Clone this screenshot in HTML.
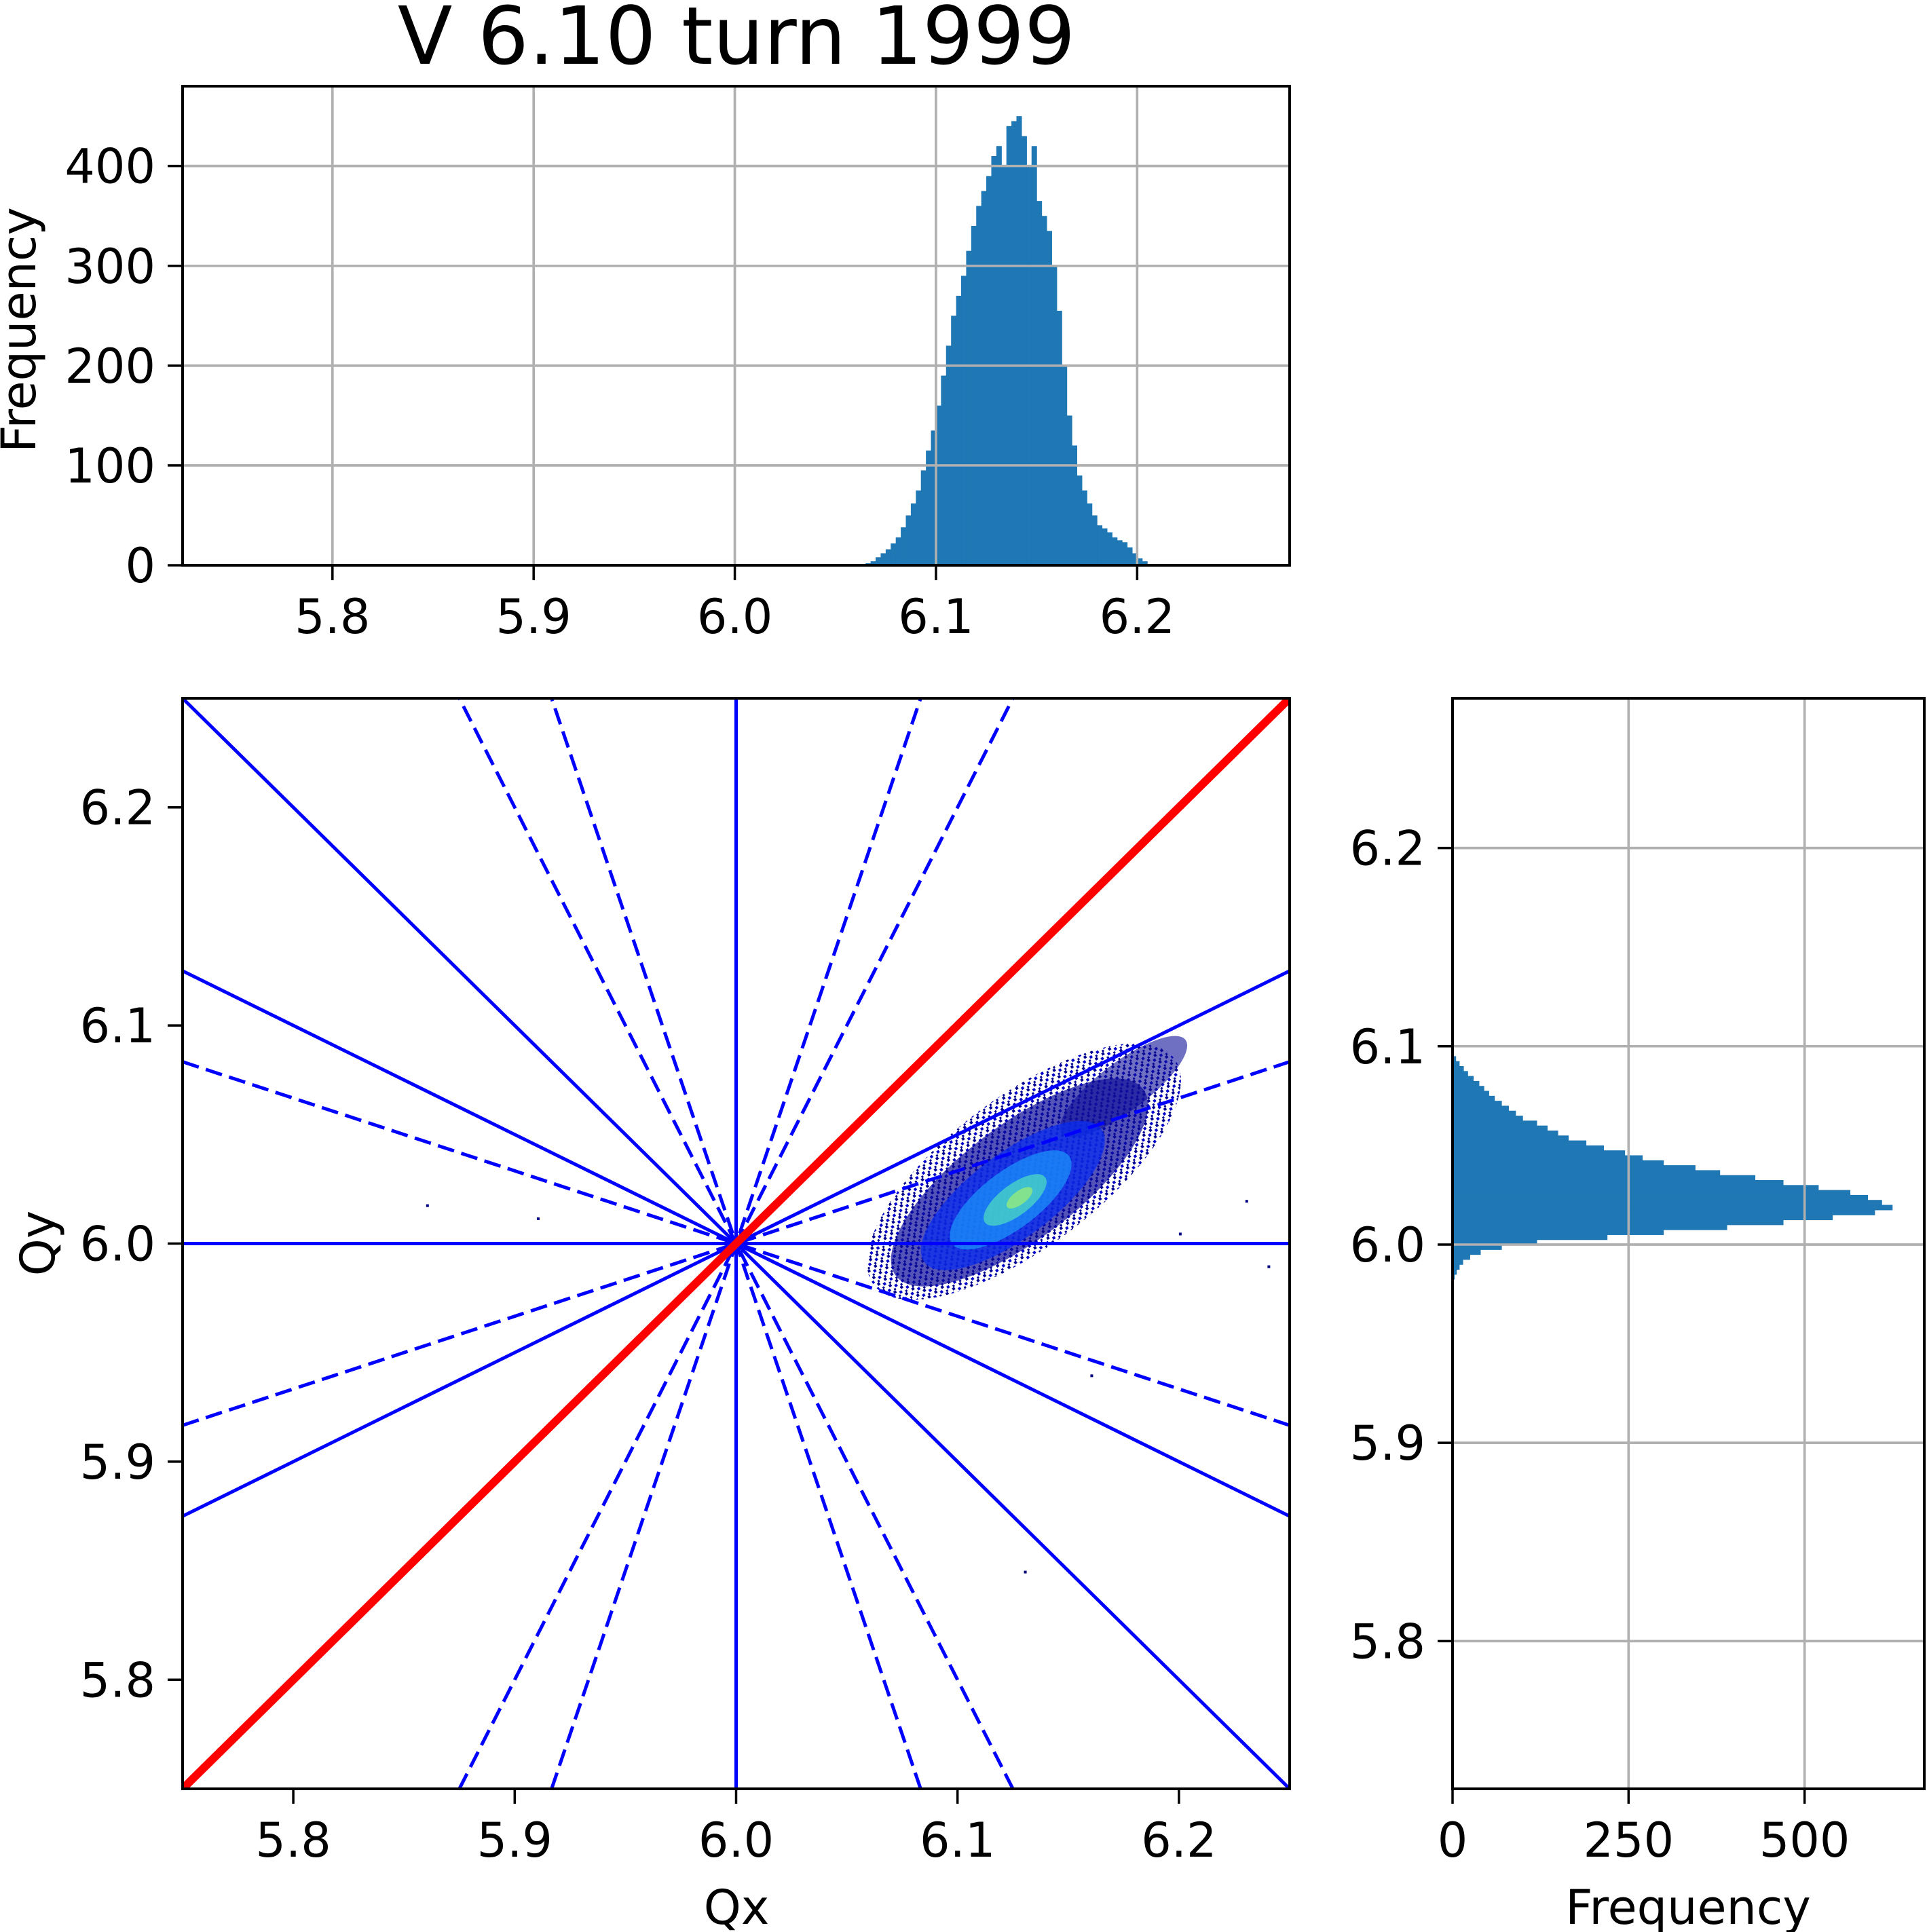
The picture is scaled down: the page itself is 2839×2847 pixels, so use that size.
<!DOCTYPE html>
<html><head><meta charset="utf-8">
<style>
html,body{margin:0;padding:0;background:#fff;}
svg{display:block;font-family:"DejaVu Sans","Liberation Sans",sans-serif;}
</style></head>
<body>
<svg id="chart" width="2839" height="2847" viewBox="0 0 2839 2847" xmlns="http://www.w3.org/2000/svg">
<defs>
<pattern id="speck" width="12" height="12" patternUnits="userSpaceOnUse">
<rect x="0" y="0" width="4" height="4" fill="#00008f"/><rect x="7" y="5" width="4" height="4" fill="#0000c8"/><rect x="3" y="9" width="3" height="3" fill="#00008f"/>
</pattern>
</defs>
<text x="1085" y="94" font-size="118" text-anchor="middle">V 6.10 turn 1999</text>
</svg>
<script>
// ---------- data ----------
const topBinStart = 6.065;
const topBinWidth = 0.0025;
const topCounts = [2,4,8,12,16,22,28,38,50,62,75,95,115,135,160,190,220,250,270,290,315,340,360,375,390,410,420,400,440,445,450,430,400,420,365,350,335,300,255,200,150,120,90,75,62,50,40,37,33,28,25,23,18,12,7,4];
const rightBinStart = 5.9825;
const rightBinWidth = 0.0025;
const rightCounts = [3,6,10,15,25,40,70,120,220,300,390,470,540,600,625,610,590,565,520,470,430,380,345,300,270,245,215,190,165,150,135,120,100,90,80,70,60,52,45,38,30,22,16,10,5];
const topXTicks = [5.8,5.9,6.0,6.1,6.2];
const topYTicks = [0,100,200,300,400];
const scatXTicks = [5.8,5.9,6.0,6.1,6.2];
const scatYTicks = [5.8,5.9,6.0,6.1,6.2];
const rightXTicks = [0,250,500];
const rightYTicks = [5.8,5.9,6.0,6.1,6.2];
const resonanceSlopes = [1,-1,0.5,-0.5];
const dashedSlopes = [1/3,-1/3,2,-2,3,-3];
// [centerQx, centerQy, semiMajor, semiMinor, color, opacity]
const blobLayers = [
 [6.13,6.033,0.085,0.034,'url(#speck)',1],
 [6.128,6.028,0.07,0.026,'#0c0c9a',0.7],
 [6.175,6.072,0.035,0.011,'#10109a',0.6],
 [6.125,6.022,0.05,0.019,'#0a2cf0',0.75],
 [6.124,6.02,0.033,0.013,'#1a90f8',0.75],
 [6.126,6.02,0.017,0.007,'#50e0c0',0.7],
 [6.128,6.021,0.007,0.003,'#a0f070',0.7]];
const strayPts = [[5.86,6.018],[5.91,6.012],[6.23,6.02],[6.2,6.005],[6.16,5.94],[6.14,6.14],[6.13,5.85],[6.24,5.99]];

const NS='http://www.w3.org/2000/svg';
const svg=document.getElementById('chart');
function mk(tag,attrs,parent){const e=document.createElementNS(NS,tag);for(const k in attrs)e.setAttribute(k,attrs[k]);(parent||svg).appendChild(e);return e;}

const TOP={x0:269,x1:1900,y0:127,y1:833,xmin:5.7255,xmax:6.2758,ymin:0,ymax:480};
const SC={x0:269,x1:1900,y0:1029,y1:2636,xmin:5.75,xmax:6.25,ymin:5.75,ymax:6.25};
const RT={x0:2140,x1:2835,y0:1029,y1:2636,xmin:0,xmax:670,ymin:5.7255,ymax:6.2755};
function sx(a,v){return a.x0+(v-a.xmin)/(a.xmax-a.xmin)*(a.x1-a.x0);}
function sy(a,v){return a.y1-(v-a.ymin)/(a.ymax-a.ymin)*(a.y1-a.y0);}
const FS=70;

function frame(a,name){
  const r=mk('rect',{x:a.x0,y:a.y0,width:a.x1-a.x0,height:a.y1-a.y0,fill:'none',stroke:'#000','stroke-width':4});
  
  
}
function grid(a,xt,yt,name){
  xt.forEach(v=>{const l=mk('line',{x1:sx(a,v),x2:sx(a,v),y1:a.y0,y2:a.y1,stroke:'#b0b0b0','stroke-width':3.5});
    
    });
  yt.forEach(v=>{const l=mk('line',{x1:a.x0,x2:a.x1,y1:sy(a,v),y2:sy(a,v),stroke:'#b0b0b0','stroke-width':3.5});
    
    });
}
function ticks(a,xt,yt,name,fmtX,fmtY){
  xt.forEach(v=>{const x=sx(a,v);
    const t=mk('line',{x1:x,x2:x,y1:a.y1,y2:a.y1+22,stroke:'#000','stroke-width':3.5});
    
    
    const tx=mk('text',{x:x,y:a.y1+100,'font-size':FS,'text-anchor':'middle'});tx.textContent=fmtX(v);
    
    });
  yt.forEach(v=>{const y=sy(a,v);
    const t=mk('line',{x1:a.x0-22,x2:a.x0,y1:y,y2:y,stroke:'#000','stroke-width':3.5});
    
    
    const tx=mk('text',{x:a.x0-40,y:y+25,'font-size':FS,'text-anchor':'end'});tx.textContent=fmtY(v);
    
    });
}
const f1=v=>v.toFixed(1), f0=v=>String(v);

// ---------- top histogram ----------
grid(TOP,topXTicks,topYTicks,'top-hist');
const gTop=mk('g',{fill:'#1f77b4'});


topCounts.forEach((c,i)=>{const xa=sx(TOP,topBinStart+i*topBinWidth),xb=sx(TOP,topBinStart+(i+1)*topBinWidth);
  const r=mk('rect',{x:xa,y:sy(TOP,c),width:xb-xa+0.6,height:sy(TOP,0)-sy(TOP,c)},gTop);
  
  });
topYTicks.forEach(v=>{const l=mk('line',{x1:TOP.x0,x2:TOP.x1,y1:sy(TOP,v),y2:sy(TOP,v),stroke:'#b0b0b0','stroke-width':3.5});
  
  });
topXTicks.forEach(v=>{const l=mk('line',{x1:sx(TOP,v),x2:sx(TOP,v),y1:TOP.y0,y2:TOP.y1,stroke:'#b0b0b0','stroke-width':3.5});
  
  });
frame(TOP,'top-hist');
ticks(TOP,topXTicks,topYTicks,'top-hist',f1,f0);
const yl=mk('text',{x:0,y:0,'font-size':FS,'text-anchor':'middle',transform:'translate(52,486) rotate(-90)'});yl.textContent='Frequency';



// ---------- scatter ----------
const clip=mk('clipPath',{id:'scclip'});mk('rect',{x:SC.x0,y:SC.y0,width:SC.x1-SC.x0,height:SC.y1-SC.y0},clip);
const gB=mk('g',{'clip-path':'url(#scclip)'});


const pxu=(SC.x1-SC.x0)/(SC.xmax-SC.xmin);
blobLayers.forEach(L=>{const cx=sx(SC,L[0]),cy=sy(SC,L[1]);
  const e=mk('ellipse',{cx:cx,cy:cy,rx:L[2]*pxu,ry:L[3]*pxu,fill:L[4],'fill-opacity':L[5],transform:`rotate(-37 ${cx} ${cy})`},gB);
  
  });
strayPts.forEach(p=>{const r=mk('rect',{x:sx(SC,p[0]),y:sy(SC,p[1]),width:4,height:4,fill:'#000080'},gB);
  
  });
const gL=mk('g',{'clip-path':'url(#scclip)'});


function resLine(m,dash,color,w,name){
  const x0=6.0,y0=6.0;let p1,p2;
  if(Math.abs(m)<=1){p1=[5.75,y0+m*(5.75-x0)];p2=[6.25,y0+m*(6.25-x0)];}
  else{p1=[x0+(5.75-y0)/m,5.75];p2=[x0+(6.25-y0)/m,6.25];}
  const a={x1:sx(SC,p1[0]),y1:sy(SC,p1[1]),x2:sx(SC,p2[0]),y2:sy(SC,p2[1]),stroke:color,'stroke-width':w};
  if(dash)a['stroke-dasharray']='25 11';
  const l=mk('line',a,gL);
  
  
}
const vl=mk('line',{x1:sx(SC,6),x2:sx(SC,6),y1:SC.y0,y2:SC.y1,stroke:'#0000ff','stroke-width':5},gL);


resLine(0,false,'#0000ff',5,'resonance-line-horizontal');
dashedSlopes.forEach(m=>resLine(m,true,'#0000ff',5,'resonance-line-dashed'));
resonanceSlopes.forEach(m=>{if(m!==1)resLine(m,false,'#0000ff',5,'resonance-line-solid');});
resLine(1,false,'#ff0000',12,'coupling-resonance-line');
frame(SC,'scatter');
ticks(SC,scatXTicks,scatYTicks,'scatter',f1,f1);
const qx=mk('text',{x:1085,y:2835,'font-size':FS,'text-anchor':'middle'});qx.textContent='Qx';


const qy=mk('text',{x:0,y:0,'font-size':FS,'text-anchor':'middle',transform:'translate(80,1832) rotate(-90)'});qy.textContent='Qy';



// ---------- right histogram ----------
grid(RT,rightXTicks,rightYTicks,'right-hist');
const gR=mk('g',{fill:'#1f77b4'});


rightCounts.forEach((c,i)=>{const ya=sy(RT,rightBinStart+(i+1)*rightBinWidth),yb=sy(RT,rightBinStart+i*rightBinWidth);
  const r=mk('rect',{x:RT.x0,y:ya,width:sx(RT,c)-RT.x0,height:yb-ya+0.6},gR);
  
  });
rightYTicks.forEach(v=>{const l=mk('line',{x1:RT.x0,x2:RT.x1,y1:sy(RT,v),y2:sy(RT,v),stroke:'#b0b0b0','stroke-width':3.5});
  
  });
rightXTicks.forEach(v=>{const l=mk('line',{x1:sx(RT,v),x2:sx(RT,v),y1:RT.y0,y2:RT.y1,stroke:'#b0b0b0','stroke-width':3.5});
  
  });
frame(RT,'right-hist');
ticks(RT,rightXTicks,rightYTicks,'right-hist',f0,f1);
const fl=mk('text',{x:2487,y:2835,'font-size':FS,'text-anchor':'middle'});fl.textContent='Frequency';


</script>
</body></html>
